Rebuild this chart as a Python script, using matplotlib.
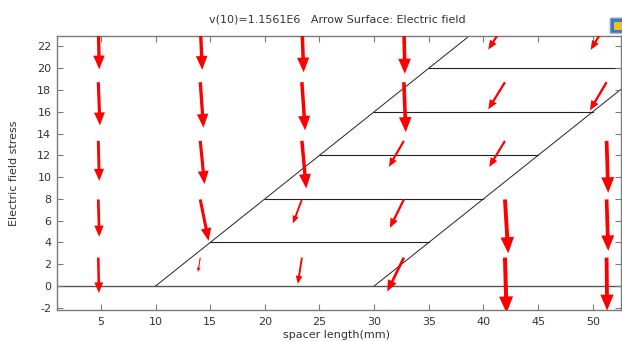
"""Arrow surface plot of the electric field around the spacer."""

import matplotlib

matplotlib.use("Agg")
import matplotlib.pyplot as plt
from matplotlib.patches import FancyBboxPatch

TITLE = "v(10)=1.1561E6   Arrow Surface: Electric field"
X_LABEL = "spacer length(mm)"
Y_LABEL = "Electric field stress"

X_TICKS = [5, 10, 15, 20, 25, 30, 35, 40, 45, 50]
Y_TICKS = [-2, 0, 2, 4, 6, 8, 10, 12, 14, 16, 18, 20, 22]

# geometry: two slanted edges and the horizontal layers between them
EDGE_LEFT_X = [10, 38.7]
EDGE_RIGHT_X = [30, 58.7]
EDGE_Y = [0, 22.96]
LAYER_Y = [4, 8, 12, 16, 20]
LAYER_START = [15, 20, 25, 30, 35]
LAYER_END = [35, 40, 45, 50, 55]

# arrow tails (columns x rows) and vector components, one list per column
ARROW_X = [4.76, 14.09, 23.39, 32.72, 41.97, 51.27]
ARROW_Y = [24.1, 18.72, 13.33, 7.95, 2.61]
ARROW_U = [
    [0.09, 0.15, 0.09, 0.09, 0.06],
    [0.18, 0.30, 0.39, 0.76, -0.21],
    [0.16, 0.30, 0.40, -0.82, -0.37],
    [0.09, 0.18, -1.37, -1.28, -1.52],
    [-1.53, -1.53, -1.44, 0.30, 0.15],
    [-1.46, -1.53, 0.15, 0.15, 0.05],
]
ARROW_V = [
    [-4.20, -3.97, -3.67, -3.43, -3.25],
    [-4.25, -4.18, -3.97, -3.80, -1.32],
    [-4.47, -4.43, -4.37, -2.20, -2.41],
    [-4.61, -4.59, -2.39, -2.61, -3.12],
    [-2.39, -2.50, -2.39, -4.95, -5.10],
    [-2.41, -2.60, -4.77, -4.72, -4.86],
]

TEXT_COLOR = "#333333"
FRAME_COLOR = "#7a7a7a"


def draw_geometry(axis):
    axis.axhline(0, color="#555555", linewidth=1.0, zorder=1)
    axis.plot(EDGE_LEFT_X, EDGE_Y, color="#222222", linewidth=0.7, zorder=1)
    axis.plot(EDGE_RIGHT_X, EDGE_Y, color="#222222", linewidth=0.7, zorder=1)
    for y, x0, x1 in zip(LAYER_Y, LAYER_START, LAYER_END):
        axis.plot([x0, x1], [y, y], color="#222222", linewidth=0.8, zorder=1)


def draw_arrows(axis):
    for col, x in enumerate(ARROW_X):
        for row, y in enumerate(ARROW_Y):
            u = ARROW_U[col][row]
            v = ARROW_V[col][row]
            length = (u * u + v * v) ** 0.5
            axis.arrow(
                x, y, u, v,
                width=0.072 * length,
                head_width=0.25 * length,
                head_length=0.3 * length,
                length_includes_head=True,
                color="#ff0000",
                linewidth=0,
                zorder=3,
            )


def main():
    fig = plt.figure(figsize=(6.22, 3.42), dpi=100)
    axis = fig.add_axes([0.0916, 0.0936, 0.907, 0.8011])

    draw_geometry(axis)
    draw_arrows(axis)

    axis.set_xlim(0.98, 52.6)
    axis.set_ylim(-2.2, 22.96)
    axis.set_xticks(X_TICKS)
    axis.set_yticks(Y_TICKS)
    axis.tick_params(direction="in", top=True, right=True, length=4, width=0.8,
                     colors=FRAME_COLOR, labelcolor=TEXT_COLOR, labelsize=8)
    axis.tick_params(axis="x", pad=5)
    axis.tick_params(axis="y", pad=4)
    axis.set_yticklabels([str(t) for t in Y_TICKS])
    for spine in axis.spines.values():
        spine.set_color(FRAME_COLOR)
        spine.set_linewidth(1.0)

    axis.set_xlabel(X_LABEL, fontsize=8, color=TEXT_COLOR)
    axis.xaxis.set_label_coords(0.495, -0.072)
    axis.set_ylabel(Y_LABEL, fontsize=8, color=TEXT_COLOR)
    axis.yaxis.set_label_coords(-0.068, 0.5)

    fig.text(0.543, 0.942, TITLE, ha="center", va="center", fontsize=8, color=TEXT_COLOR)

    # small toolbar icon cut off at the right edge
    icon = FancyBboxPatch((0.983, 0.905), 0.03, 0.04, boxstyle="round,pad=0.002",
                          transform=fig.transFigure, facecolor="#3a78c8",
                          edgecolor="#9aa4b0", linewidth=0.8)
    fig.patches.append(icon)
    fig.patches.append(FancyBboxPatch((0.987, 0.913), 0.02, 0.022, boxstyle="square,pad=0",
                                      transform=fig.transFigure, facecolor="#f0c020",
                                      linewidth=0))

    fig.savefig("out.png", dpi=100)
    plt.close(fig)


if __name__ == "__main__":
    main()
